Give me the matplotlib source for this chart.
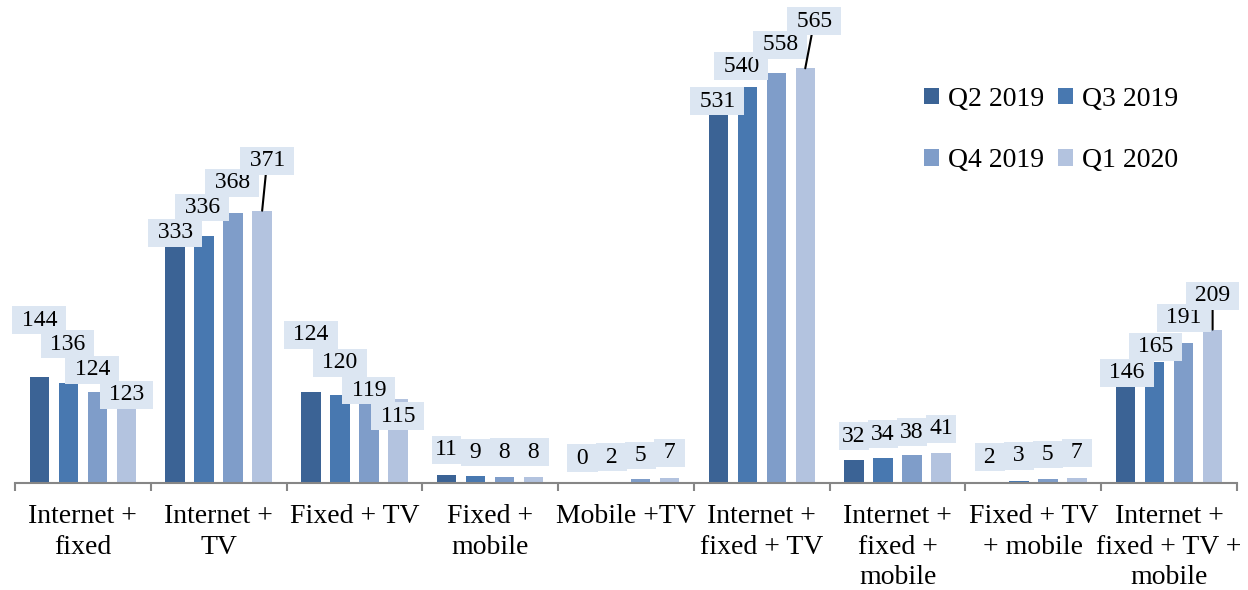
import numpy as np
import matplotlib
matplotlib.use("Agg")
import matplotlib.pyplot as plt

plt.rcParams['font.family'] = ['Liberation Serif', 'DejaVu Serif']

categories = ["Internet +\nfixed", "Internet +\nTV", "Fixed + TV", "Fixed +\nmobile",
              "Mobile +TV", "Internet +\nfixed + TV", "Internet +\nfixed +\nmobile",
              "Fixed + TV\n+ mobile", "Internet +\nfixed + TV +\nmobile"]
series_names = ["Q2 2019", "Q3 2019", "Q4 2019", "Q1 2020"]
q2_2019 = [144, 333, 124, 11, 0, 531, 32, 2, 146]
q3_2019 = [136, 336, 120, 9, 2, 540, 34, 3, 165]
q4_2019 = [124, 368, 119, 8, 5, 558, 38, 5, 191]
q1_2020 = [123, 371, 115, 8, 7, 565, 41, 7, 209]
values = [q2_2019, q3_2019, q4_2019, q1_2020]
colors = ["#3B6395", "#4878B0", "#7F9DC9", "#B3C3DF"]

# label placement (pixels from top of bar), hand-moved like the original
label_dy = [[57, 5.6, 57, 25, 25, -8, 23.5, 24.5, 3],
            [39, 29, 32, 24, 24.5, 20.5, 24, 25, 15],
            [22, 30, 5, 25, 24, 28.5, 23, 25, 25],
            [-2, 49.7, -17.5, 25, 25, 47, 24, 25, 33.6]]
label_dx = [[0, 0, 0, 0, 0, -1, 0, 0, 1],
            [-1, -2, 0, 0, 0, -6, 0, 0, 1],
            [-5, -1, 0, 0, 0, 4, 0, 0, 0],
            [0, 5, 0, 0, 0, 9, 0, 0, 0]]
leaders = {(3, 1), (3, 5), (3, 8)}

fig = plt.figure(figsize=(12.48, 5.9), dpi=100)
ax = fig.add_axes([15 / 1248, 107 / 590, 1222 / 1248, 483 / 590])

x = np.arange(len(categories))
step, width = 0.2135, 0.1436
bar_sets = []
for j, (name, vals, col) in enumerate(zip(series_names, values, colors)):
    bars = ax.bar(x + (j - 1.5) * step, vals, width=width, color=col, label=name, zorder=2)
    bar_sets.append(bars)

for j, bars in enumerate(bar_sets):
    for i, b in enumerate(bars):
        v = values[j][i]
        txt = f"{v}" if 10 <= v < 100 else f" {v} "
        arrow = None
        if (j, i) in leaders:
            arrow = dict(arrowstyle='-', color='black', lw=1.5, shrinkA=0, shrinkB=0)
        ax.annotate(txt, xy=(b.get_x() + b.get_width() / 2, v),
                    xytext=(label_dx[j][i], label_dy[j][i]), textcoords='offset pixels',
                    ha='center', va='center', fontsize=17, color='black',
                    bbox=dict(boxstyle='square,pad=0.14', fc='#DCE6F2', ec='none'),
                    arrowprops=arrow, zorder=5 + j)

ax.set_xlim(-0.5, len(categories) - 0.5)
ax.set_ylim(0, 483 / 0.734)
for s in ['top', 'right', 'left']:
    ax.spines[s].set_visible(False)
ax.spines['bottom'].set_color('#868686')
ax.spines['bottom'].set_linewidth(1.5)
ax.set_yticks([])
ax.set_xticks(np.arange(-0.5, len(categories), 1))
ax.set_xticklabels([])
ax.tick_params(axis='x', which='major', length=6, width=1.5, color='#868686')
ax.set_xticks(x, categories, minor=True)
ax.tick_params(axis='x', which='minor', length=0, pad=15, labelsize=20)
for t in ax.get_xticklabels(minor=True):
    t.set_linespacing(1.3)

h, l = ax.get_legend_handles_labels()
order = [0, 2, 1, 3]
ax.legend([h[k] for k in order], [l[k] for k in order], ncol=2, loc='center',
          bbox_to_anchor=(1051 / 1248, 1 - 130 / 590), bbox_transform=fig.transFigure,
          frameon=False, fontsize=20, handlelength=0.55, handleheight=0.55,
          handletextpad=0.3, columnspacing=0.5, labelspacing=1.3)

fig.savefig("out.png", dpi=100)
